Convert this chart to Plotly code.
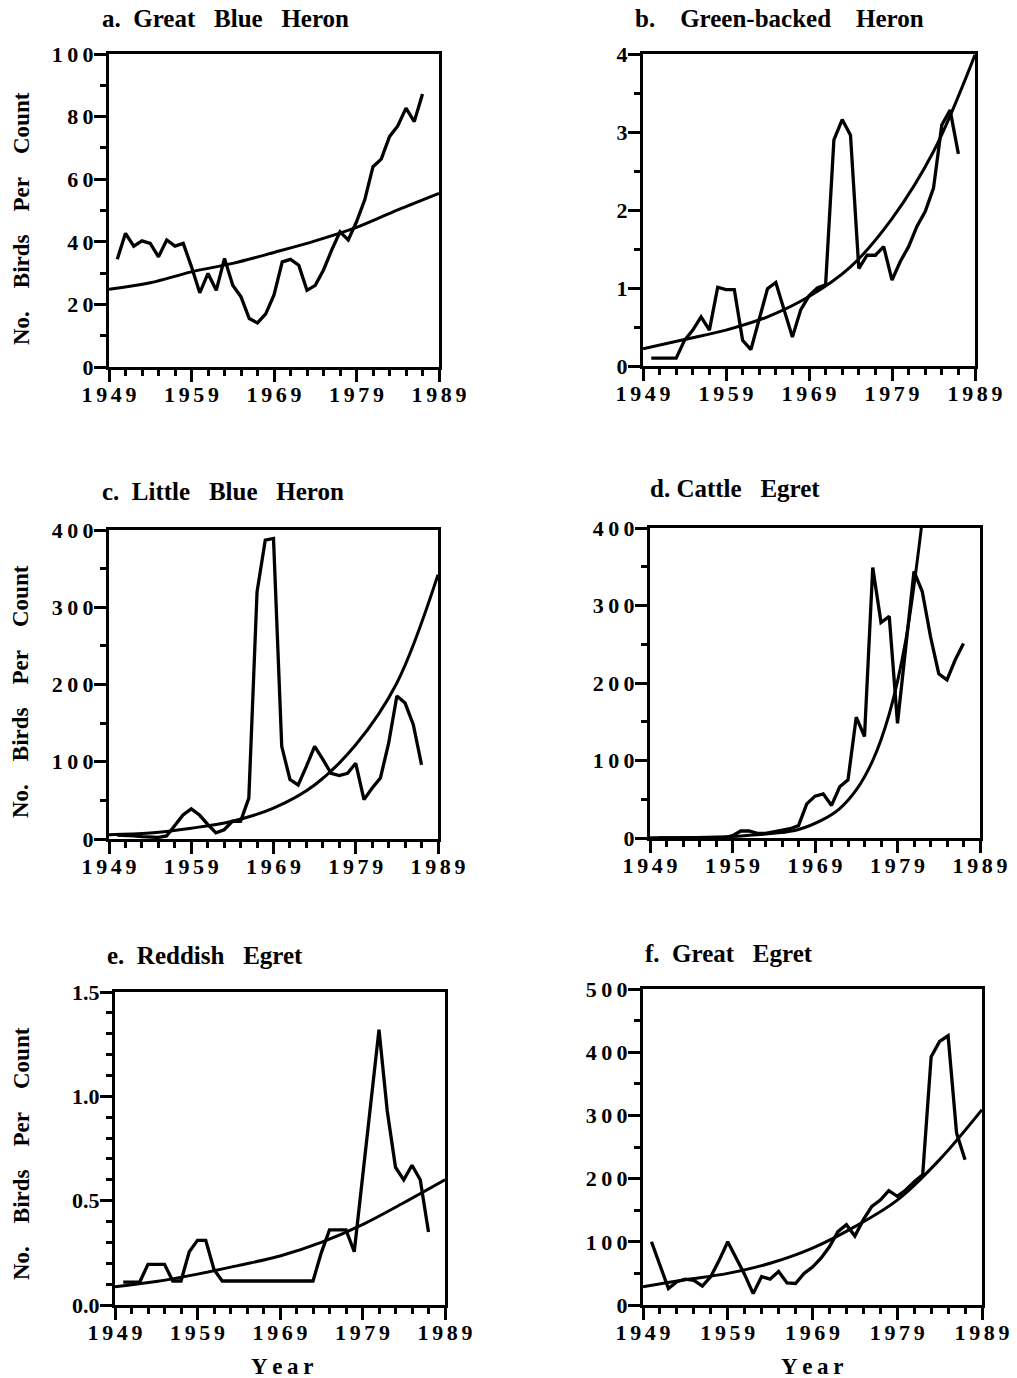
import plotly.graph_objects as go

# ---------------- data ----------------
years = list(range(1950, 1988))
fit_years = [1949, 1954, 1959, 1964, 1969, 1974, 1979, 1984, 1989]

great_blue_heron = [34.4, 42.7, 38.6, 40.3, 39.5, 35.2, 40.6, 38.6, 39.5, 32.0,
                    23.7, 29.9, 24.5, 34.7, 26.1, 22.4, 15.5, 14.1, 17.0, 23.0,
                    33.6, 34.4, 32.5, 24.5, 26.1, 31.0, 37.4, 43.2, 40.6, 46.4,
                    53.4, 64.0, 66.4, 73.6, 77.0, 82.7, 78.4, 87.2]
great_blue_heron_fit = [24.8, 26.9, 30.4, 33.1, 36.6, 40.3, 44.6, 50.2, 55.5]

green_backed_heron = [0.1, 0.1, 0.1, 0.1, 0.33, 0.46, 0.63, 0.46, 1.01, 0.98,
                      0.98, 0.33, 0.21, 0.6, 0.99, 1.07, 0.72, 0.37, 0.72, 0.9,
                      1.0, 1.04, 2.9, 3.16, 2.96, 1.25, 1.42, 1.42, 1.53, 1.1,
                      1.34, 1.53, 1.79, 1.98, 2.28, 3.09, 3.28, 2.72]
green_backed_heron_fit = [0.22, 0.34, 0.46, 0.63, 0.89, 1.27, 1.89, 2.75, 3.99]

little_blue_heron = [5, 5, 4, 3, 2, 2, 4, 17, 31, 39,
                     31, 19, 8, 12, 23, 23, 53, 320, 387, 389,
                     120, 77, 70, 94, 120, 103, 85, 82, 85, 98,
                     51, 66, 79, 124, 185, 176, 148, 96]
little_blue_heron_fit = [5.6, 7.8, 14, 23, 40, 70, 122, 202, 342]

cattle_egret = [0, 0, 0, 0, 0, 0, 0, 0, 0, 3,
                9, 9, 6, 6, 8, 10, 12, 16, 44, 54,
                57, 42, 66, 75, 156, 131, 349, 278, 286, 148,
                251, 344, 318, 260, 212, 204, 230, 251]
cattle_egret_fit_years = [1949, 1954, 1959, 1964, 1967, 1970, 1972, 1974, 1976, 1978, 1980, 1982]
cattle_egret_fit = [0.2, 0.6, 2, 6, 11, 24, 38, 62, 100, 160, 255, 410]

reddish_egret = [0.11, 0.11, 0.11, 0.195, 0.195, 0.195, 0.115, 0.115, 0.255, 0.31,
                 0.31, 0.17, 0.115, 0.115, 0.115, 0.115, 0.115, 0.115, 0.115, 0.115,
                 0.115, 0.115, 0.115, 0.115, 0.25, 0.36, 0.36, 0.36, 0.255, 0.62,
                 0.97, 1.32, 0.93, 0.66, 0.6, 0.67, 0.6, 0.35]
reddish_egret_fit = [0.088, 0.113, 0.148, 0.19, 0.235, 0.3, 0.385, 0.49, 0.6]

great_egret = [100, 63, 26, 37, 41, 39, 30, 45, 71, 100,
               74, 48, 18, 45, 41, 53, 35, 34, 50, 60,
               74, 92, 116, 127, 109, 135, 156, 166, 181, 172,
               182, 195, 206, 393, 417, 426, 272, 230]
great_egret_fit = [29, 40, 50, 66, 90, 124, 166, 230, 309]

x_ticks = [1949, 1959, 1969, 1979, 1989]
y_label = "No.\u00a0\u00a0\u00a0\u00a0Birds\u00a0\u00a0\u00a0\u00a0Per\u00a0\u00a0\u00a0\u00a0Count"

# ---------------- layout helpers ----------------
W, H = 1017, 1378
FONT = "Liberation Serif"


def fx(x):
    return x / W


def fy(y):
    return 1 - y / H


def spaced(s, sep="\u2009"):
    return sep.join(s) if "." not in s else s


panels = [
    dict(title="a.\u00a0\u00a0Great\u00a0\u00a0\u00a0Blue\u00a0\u00a0\u00a0Heron", tpos=(100, 18),
         box=(109, 439, 54, 367), data=great_blue_heron, fx_=fit_years, fit=great_blue_heron_fit,
         yr=[0, 100], yt=[0, 20, 40, 60, 80, 100], ylab=["0", "20", "40", "60", "80", "100"], ym=10,
         ylabel=219, year=None),
    dict(title="b.\u00a0\u00a0\u00a0\u00a0Green-backed\u00a0\u00a0\u00a0\u00a0Heron", tpos=(633, 18),
         box=(643, 975, 54, 366), data=green_backed_heron, fx_=fit_years, fit=green_backed_heron_fit,
         yr=[0, 4], yt=[0, 1, 2, 3, 4], ylab=["0", "1", "2", "3", "4"], ym=0.5,
         ylabel=None, year=None),
    dict(title="c.\u00a0\u00a0Little\u00a0\u00a0\u00a0Blue\u00a0\u00a0\u00a0Heron", tpos=(100, 492),
         box=(109, 438, 530, 839), data=little_blue_heron, fx_=fit_years, fit=little_blue_heron_fit,
         yr=[0, 400], yt=[0, 100, 200, 300, 400], ylab=["0", "100", "200", "300", "400"], ym=50,
         ylabel=692, year=None),
    dict(title="d.\u00a0Cattle\u00a0\u00a0\u00a0Egret", tpos=(648, 488),
         box=(650, 980, 528, 838), data=cattle_egret, fx_=cattle_egret_fit_years, fit=cattle_egret_fit,
         yr=[0, 400], yt=[0, 100, 200, 300, 400], ylab=["0", "100", "200", "300", "400"], ym=50,
         ylabel=None, year=None),
    dict(title="e.\u00a0\u00a0Reddish\u00a0\u00a0\u00a0Egret", tpos=(105, 955),
         box=(115, 445, 992, 1305), data=reddish_egret, fx_=fit_years, fit=reddish_egret_fit,
         yr=[0, 1.5], yt=[0, 0.5, 1.0, 1.5], ylab=["0.0", "0.5", "1.0", "1.5"], ym=0.1,
         ylabel=1154, year=(282, 1366)),
    dict(title="f.\u00a0\u00a0Great\u00a0\u00a0\u00a0Egret", tpos=(643, 953),
         box=(643, 982, 989, 1305), data=great_egret, fx_=fit_years, fit=great_egret_fit,
         yr=[0, 500], yt=[0, 100, 200, 300, 400, 500], ylab=["0", "100", "200", "300", "400", "500"], ym=50,
         ylabel=None, year=(812, 1366)),
]

fig = go.Figure()
annotations = []
layout = {}
tickfont = dict(family=FONT, size=22, color="black", weight="bold")

for i, p in enumerate(panels, start=1):
    xa = "xaxis" if i == 1 else f"xaxis{i}"
    ya = "yaxis" if i == 1 else f"yaxis{i}"
    xr = "x" if i == 1 else f"x{i}"
    yrf = "y" if i == 1 else f"y{i}"
    L, R, T, B = p["box"]
    layout[xa] = dict(
        domain=[fx(L), fx(R)], anchor=yrf, range=[1949, 1989], automargin=False,
        tickmode="array", tickvals=x_ticks, ticktext=[spaced(str(v), "\u2006") for v in x_ticks],
        ticks="outside", ticklen=12, tickwidth=3, tickcolor="black", ticklabelstandoff=-6,
        minor=dict(tickmode="linear", tick0=1949, dtick=2, ticks="outside", ticklen=6,
                   tickwidth=3, tickcolor="black", showgrid=False),
        showline=True, linewidth=3, linecolor="black", mirror=True,
        showgrid=False, zeroline=False, tickfont=tickfont, fixedrange=True,
    )
    layout[ya] = dict(
        domain=[fy(B), fy(T)], anchor=xr, range=p["yr"], automargin=False,
        tickmode="array", tickvals=p["yt"], ticktext=[spaced(s) for s in p["ylab"]],
        ticks="outside", ticklen=12, tickwidth=3, tickcolor="black", ticklabelstandoff=-4,
        minor=dict(tickmode="linear", tick0=0, dtick=p["ym"], ticks="outside", ticklen=6,
                   tickwidth=3, tickcolor="black", showgrid=False),
        showline=True, linewidth=3, linecolor="black", mirror=True,
        showgrid=False, zeroline=False, tickfont=tickfont, fixedrange=True,
    )
    fig.add_trace(go.Scatter(x=years, y=p["data"], mode="lines",
                             line=dict(color="black", width=3.3),
                             xaxis=xr, yaxis=yrf, showlegend=False, hoverinfo="skip"))
    fig.add_trace(go.Scatter(x=p["fx_"], y=p["fit"], mode="lines",
                             line=dict(color="black", width=3, shape="spline", smoothing=1.0),
                             xaxis=xr, yaxis=yrf, showlegend=False, hoverinfo="skip"))
    annotations.append(dict(text=p["title"], x=fx(p["tpos"][0]), y=fy(p["tpos"][1]),
                            xref="paper", yref="paper", xanchor="left", yanchor="middle",
                            showarrow=False,
                            font=dict(family=FONT, size=25, color="black", weight="bold")))
    if p["ylabel"] is not None:
        annotations.append(dict(text=y_label, x=fx(21), y=fy(p["ylabel"]),
                                xref="paper", yref="paper", xanchor="center", yanchor="middle",
                                textangle=-90, showarrow=False,
                                font=dict(family=FONT, size=23, color="black", weight="bold")))
    if p["year"] is not None:
        annotations.append(dict(text="\u2009".join("Year"), x=fx(p["year"][0]), y=fy(p["year"][1]),
                                xref="paper", yref="paper", xanchor="center", yanchor="middle",
                                showarrow=False,
                                font=dict(family=FONT, size=23, color="black", weight="bold")))

fig.update_layout(
    template="none",
    width=W, height=H, margin=dict(l=0, r=0, t=0, b=0, autoexpand=False),
    paper_bgcolor="white", plot_bgcolor="white",
    annotations=annotations, showlegend=False, **layout,
)

fig.write_html("out.html", config={"displayModeBar": False},
               post_script="document.body.style.margin='0';document.body.style.overflow='hidden';")
